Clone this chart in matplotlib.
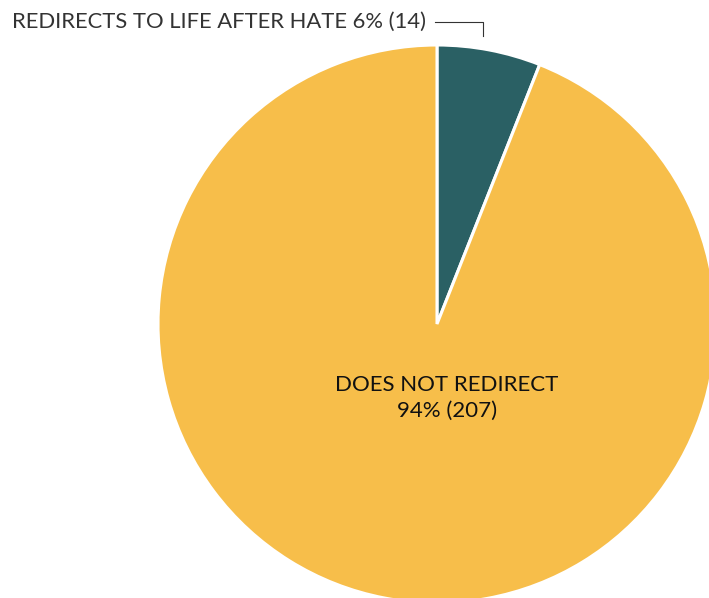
import matplotlib
matplotlib.use("Agg")
import matplotlib.pyplot as plt

labels = ["REDIRECTS TO LIFE AFTER HATE", "DOES NOT REDIRECT"]
counts = [14, 207]
pcts = [6, 94]
colors = ["#2a6064", "#f7be4a"]

W, H = 709, 598
fig = plt.figure(figsize=(W / 100, H / 100), dpi=100)
ax = fig.add_axes([0, 0, 1, 1])
ax.set_axis_off()

cx, cy, r = 437, H - 324, 279
ax.pie(pcts, colors=colors, startangle=90, counterclock=False,
       center=(cx, cy), radius=r,
       wedgeprops=dict(edgecolor="white", linewidth=2.2))
ax.set_xlim(0, W)
ax.set_ylim(0, H)
ax.set_aspect("auto")

font = "Lato"

ax.text(12, H - 22, f"{labels[0]} {pcts[0]}% ({counts[0]})", ha="left", va="center",
        fontsize=15.8, family=font, color="#333333")
ax.plot([435, 483, 483], [H - 21.7, H - 21.7, H - 35.7], color="#333333", lw=0.8)

ax.text(447, H - 398, f"{labels[1]}\n{pcts[1]}% ({counts[1]})", ha="center", va="center",
        fontsize=16, family=font, color="#111111", linespacing=1.4)

fig.savefig("out.png", dpi=100)
